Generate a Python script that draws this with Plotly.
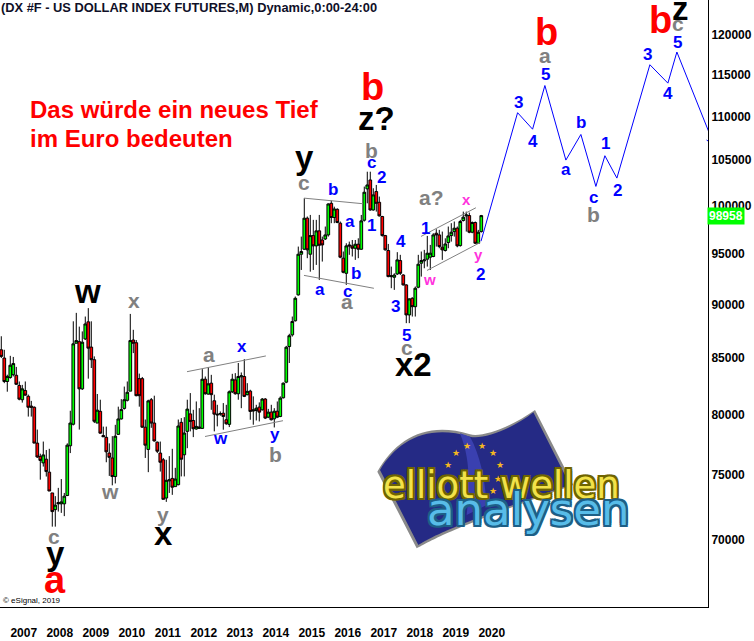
import math
import plotly.graph_objects as go

# ---- data (monthly candles, price x 1000) ----
opens = [85750,85000,82900,83250,83500,83450,82550,81300,82100,81600,
80750,80650,77620,76530,76000,76300,75250,73600,72300,72850,
72750,72750,73400,77400,79200,86350,86500,82250,86750,88350,
86000,84850,79300,80300,78250,78100,76800,76400,74900,78350,
79650,80550,81250,82050,86650,86400,83150,83150,78950,77100,
81300,79300,77700,76800,76250,73200,74550,74750,74100,74250,
79360,76660,78600,80080,79520,78800,78850,78850,83100,81790,
82750,81210,80060,80060,80140,79580,79190,81990,83040,81820,
83310,83340,81740,82050,80430,80370,80660,80430,81360,79800,
80230,79660,80310,79860,81470,82840,86050,87130,88450,90930,
94960,95470,98685,94960,96870,95810,97360,96415,96520,96940,
100265,98755,99625,98160,94560,93045,95910,95810,95570,95980,
95470,98475,101820,102795,99555,101530,100375,98860,96870,95340,
92820,92655,92980,94320,92880,91900,89005,90600,89790,91675,
94055,94290,94460,94660,94730,97115,96940,95670,95340,96150,
96870,97285,97635,95840,98440,98930,98965,97220,98230,96080,97285]
highs = [87000,85750,83500,85200,85100,84200,82900,82600,82900,81750,
81200,80720,78750,76750,77750,77050,77150,73600,73350,74000,
74700,73600,77600,80350,88400,89200,87900,87450,88850,89650,
88400,85150,81800,81300,79000,79000,77600,78200,79150,80700,
81350,82450,82900,89100,87600,86650,83600,83300,79600,81300,
81450,81650,77750,77750,76400,76250,76550,77150,75600,79600,
79720,79800,81300,81880,80430,81150,80570,84000,83340,84180,
83490,81740,80860,80290,81010,80860,82110,83580,83640,84550,
83700,84900,82750,82170,81590,80860,81070,81440,81440,80510,
80860,80570,81150,81590,82810,86110,87230,88850,90770,95740,
96765,100810,98860,99030,98510,98510,99030,96765,97810,100265,
100555,99905,99730,98335,95235,96080,96250,96415,96415,96590,
99030,102070,103705,103705,101890,102250,100990,98930,96940,96010,
93715,93045,95170,94900,92950,91965,90600,90700,91740,94900,
95235,95405,96835,95910,97115,97530,97460,97285,96590,97810,
98160,98335,97810,98510,99380,99380,99275,98335,98335,97460,99030]
lows = [85000,82750,82000,83150,83350,82600,81250,81050,81650,79850,
79850,77620,76400,74650,75700,74900,73750,71000,71000,72150,
72050,71800,73350,76800,79100,86350,78750,82150,86650,83150,
84100,79300,79300,78400,78150,76050,74950,74200,74350,78300,
79600,80450,81150,82050,85450,81600,80700,78900,76400,75250,
78900,77750,76800,75300,73100,72900,73600,73450,74100,74200,
74910,74910,77200,78600,78120,78740,78800,78800,81740,81740,
80430,78600,79020,79920,78740,79160,78960,81880,81740,81300,
80570,81530,81680,79580,79160,79520,79440,80370,79640,79720,
79520,78930,79720,79800,81410,82750,84550,86970,88380,90860,
93380,95405,94560,93210,93380,93885,92395,94220,96415,96765,
98160,98160,98160,94560,93045,91900,94900,94730,94390,94560,
95405,98335,100265,99485,99485,99380,98860,96765,95340,92655,
91580,91415,92880,92880,91840,88225,88225,88850,88850,91575,
92720,93550,93715,93380,94660,95740,95570,94390,95235,95570,
96250,96765,95670,95740,98335,97285,97115,97115,96010,96010,97185]
closes = [85150,82900,83350,84350,84500,82650,81350,82250,81700,80650,
80650,77620,76480,76200,76650,75300,73750,72150,72650,72750,
72900,73350,77450,79300,86300,86600,82250,86450,88150,85900,
84850,79450,80400,78450,78150,76900,76450,74900,78200,79650,
80450,81300,81950,86600,86350,81650,81650,78950,77450,81200,
79300,77800,76950,76050,73100,74600,74640,74050,74700,79050,
76300,78460,80490,79440,78820,79020,78960,83100,81820,82690,
81740,80060,80000,80110,79860,79240,81990,83100,81820,83340,
83400,81590,82030,80290,80340,80570,80230,81360,79720,80230,
79580,80310,79800,81440,82750,85990,87050,88380,90600,94960,
95235,98685,95405,96870,95810,97360,95875,95910,96940,100195,
98755,99660,98230,94660,93145,95810,95810,95570,95980,95470,
98405,101460,102250,99555,101170,100265,98930,96870,95405,92720,
92720,92880,94390,93045,91900,89005,90540,89790,91575,93955,
94325,94390,95065,95065,96940,96940,95740,95405,96010,96835,
97220,97635,95810,98335,98790,99030,97220,98230,96080,97220,98958]
months = list(range(len(opens)))   # month number, 0 = Oct 2006

year_labels = ["2007","2008","2009","2010","2011","2012","2013","2014","2015","2016","2017","2018","2019","2020"]
year_ticks = [7.5,19.5,31.5,43.5,55.5,67.5,79.5,91.5,103.5,115.5,127.5,139.5,151.5,163.5]
price_ticks = [120000,115000,110000,105000,100000,95000,90000,85000,80000,75000,70000]

# projected wave path (blue)
proj_x = [159.9,172.1,177.1,181.2,188.2,193.2,198.2,201.2,205.2,216.2,222.2,225.2,236.6,None,235.1,235.9]
proj_y = [96290,110450,108520,113700,105000,107910,102090,105490,103000,116250,113990,117840,107550,None,107270,107100]

# channel lines (grey)
chan_x = [61.9,88.2,None,67.9,93.9,None,100.9,120.6,None,100.9,124.2,None,139.9,158.2,None,141.9,159.6]
chan_y = [83770,85190,None,78170,79500,None,100820,100220,None,92840,91570,None,96780,99790,None,93330,96150]

last_price = 98958

W, H = 754, 641
PX_R, PX_B = 708, 607
FONT = "Liberation Sans"
GREEN, RED = "#00ff00", "#ff0000"
BLUE, GRAY, MAG = "#0000ff", "#808080", "#ff33dd"

def px(x): return x / PX_R
def py(y): return 1 - y / PX_B

fig = go.Figure()
fig.add_trace(go.Candlestick(
    x=months, open=opens, high=highs, low=lows, close=closes,
    whiskerwidth=0,
    increasing=dict(line=dict(color="#000000", width=1), fillcolor=GREEN),
    decreasing=dict(line=dict(color="#000000", width=1), fillcolor=RED),
    showlegend=False, hoverinfo="skip"))
fig.add_trace(go.Scatter(x=chan_x, y=chan_y, mode="lines", line=dict(color=GRAY, width=1), showlegend=False, hoverinfo="skip"))
fig.add_trace(go.Scatter(x=proj_x, y=proj_y, mode="lines", line=dict(color=BLUE, width=1), showlegend=False, hoverinfo="skip"))

annotations = []
def label(text, x, y, size, color, anchor="center", **kw):
    annotations.append(dict(text=text, x=px(x), y=py(y), xref="paper", yref="paper",
                            showarrow=False, xanchor=anchor, yanchor="middle", borderpad=0,
                            font=dict(family=kw.get("family", FONT), size=size, color=color,
                                      weight=kw.get("weight", 700), shadow=kw.get("shadow", "none"))))

# wave labels: text, centre x, centre y (pixels)
black_labels = [("w",87,291),("x",163,533),("y",55,553),("y",304,157),("z?",377,119),("x2",413,364),("z",680,9)]
red_labels = [("a",55,580),("b",372,87),("b",546,32),("b",660,20)]
gray_labels = [("c",54,536),("w",110,491),("x",134,300),("y",163,514),("a",209,354),("b",275,455),("c",304,183),
               ("a",347,302),("b",371,150),("a?",431,198),("c",407,347),("a",545,55),("b",593,215),("c",678,23)]
blue_labels = [("x",242,346),("w",220,438),("y",275,434),("b",333,189),("a",350,222),("b",356,273),("a",320,289),
               ("c",347,291),("1",371,225),("c",371,162),("2",381,177),("4",401,241),("3",395,306),("5",407,335),
               ("1",425,228),("2",480,274),("3",518,102),("4",533,141),("5",545,74),("a",566,169),("b",581,123),
               ("c",593,197),("1",605,144),("2",617,190),("3",647,54),("4",668,93),("5",677,42)]
magenta_labels = [("w",429,279),("x",467,200),("y",478,255)]
for t, x, y in black_labels: label(t, x, y, 33, "#000000")
for t, x, y in red_labels: label(t, x, y, 38, RED)
for t, x, y in gray_labels: label(t, x, y, 21, GRAY)
for t, x, y in blue_labels: label(t, x, y, 17, BLUE)
for t, x, y in magenta_labels: label(t, x, y, 15, MAG)

label("(DX #F - US DOLLAR INDEX FUTURES,M) Dynamic,0:00-24:00", 0, 8, 12.85, "#101028", anchor="left")
label("Das würde ein neues Tief", 29, 109, 24, RED, anchor="left")
label("im Euro bedeuten", 29, 138, 24, RED, anchor="left")
label("© eSignal, 2019", 2, 600, 8, "#000000", anchor="left", weight=400)

# current price tag
annotations.append(dict(text=f"{last_price}", xref="paper", yref="y", x=px(PX_R + 18), y=math.log10(last_price),
                        showarrow=False, xanchor="center", yanchor="middle", bgcolor=GREEN, borderpad=1,
                        font=dict(family=FONT, size=12, color="#ffffff", weight=700)))

# logo (flag + wordmark)
def zp(pts):
    out = []
    for cmd, coords in pts:
        s = cmd
        for i in range(0, len(coords), 2):
            s += f" {px(370 + coords[i] / 3):.5f},{py(405 + coords[i + 1] / 3):.5f}"
        out.append(s)
    return " ".join(out) + " Z"

flag = [("M",[30,195]),("C",[80,110,170,55,300,95]),("C",[340,105,430,70,490,22]),("L",[600,240,560,275,270,340]),
        ("C",[220,370,180,400,145,420])]
flag_shadow = [("M",[22,200]),("C",[80,100,170,48,300,88]),("C",[340,98,430,62,495,15]),("L",[610,240,560,285,275,348]),
               ("C",[220,378,180,410,140,430])]
fold = [("M",[300,95]),("C",[330,150,345,220,350,300]),("L",[290,330]),("C",[300,230,300,160,270,85])]
shapes = [
    dict(type="path", xref="paper", yref="paper", path=zp(flag_shadow), fillcolor="#8a8a8a", line=dict(width=0)),
    dict(type="path", xref="paper", yref="paper", path=zp(flag), fillcolor="#252a85", line=dict(width=0)),
    dict(type="path", xref="paper", yref="paper", path=zp(fold), fillcolor="#3a40b0", line=dict(width=0)),
]
star_pts = [(292,123),(335,123),(370,145),(390,180),(385,222),(370,258),(257,145),(235,180)]
for sx, sy in star_pts:
    label("★", 370 + sx / 3, 405 + sy / 3, 9, "#f5b81e", weight=400, family="DejaVu Sans")

def outline(c, r=2):
    return ",".join(f"{dx}px {dy}px 0 {c}" for dx in (-r, 0, r) for dy in (-r, 0, r))
label("elliott wellen", 501, 485, 37, "#f2e24a", family="DejaVu Sans", weight=400, shadow=outline("#6f6400"))
label("analysen", 528, 509, 45, "#58bce8", family="DejaVu Sans", weight=400, shadow=outline("#1d5f86"))

top = math.log10(120000) + 35 / 2157
bottom = math.log10(120000) - 572 / 2157

fig.update_layout(
    width=W, height=H, margin=dict(l=0, r=W - PX_R, t=0, b=H - PX_B),
    paper_bgcolor="#ffffff", plot_bgcolor="#ffffff", showlegend=False,
    annotations=annotations, shapes=shapes, boxgap=0.1, boxgroupgap=0,
    xaxis=dict(range=[-0.43, 235.57], rangeslider=dict(visible=False), showgrid=False, zeroline=False,
               showline=True, linecolor="#000000", linewidth=1,
               tickmode="array", tickvals=year_ticks, ticktext=year_labels, ticks="",
               ticklabelstandoff=15, tickangle=0,
               tickfont=dict(family=FONT, size=12, color="#000000", weight=700)),
    yaxis=dict(type="log", range=[bottom, top], side="right", showgrid=False, zeroline=False,
               showline=True, linecolor="#000000", linewidth=1,
               tickmode="array", tickvals=price_ticks, ticktext=[str(v) for v in price_ticks], ticks="",
               tickfont=dict(family=FONT, size=12, color="#000000", weight=700)),
)
fig.write_html("out.html", config={"displayModeBar": False},
               post_script="document.body.style.margin='0';document.body.style.overflow='hidden';")
